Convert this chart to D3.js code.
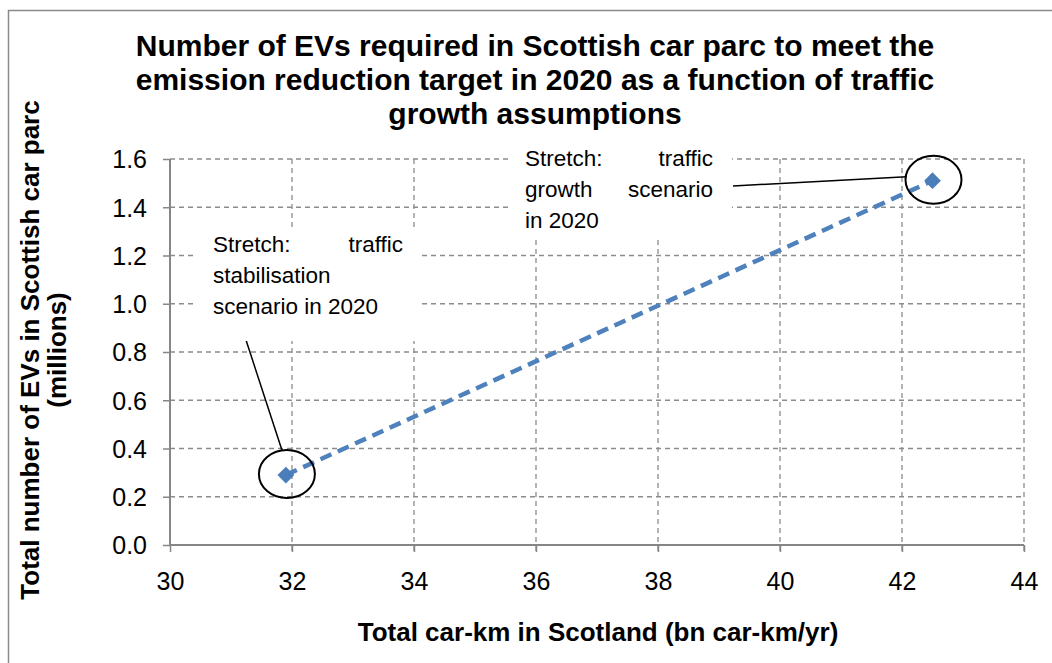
<!DOCTYPE html>
<html>
<head>
<meta charset="utf-8">
<script src="https://cdn.jsdelivr.net/npm/d3@7"></script>
<style>
  body { margin: 0; background: #fff; }
  svg text { font-family: Arial, "Liberation Sans", sans-serif; fill: #000; }
</style>
</head>
<body>
<div id="chart"></div>
<script>
const width = 1052;
const height = 663;

// data
const carKm = [31.9, 42.5];          // bn car-km/yr
const evsMillions = [0.29, 1.51];    // millions of EVs
const xTicks = [30, 32, 34, 36, 38, 40, 42, 44];
const yTicks = [0, 0.2, 0.4, 0.6, 0.8, 1.0, 1.2, 1.4, 1.6];
const titleLines = [
    'Number of EVs required in Scottish car parc to meet the',
    'emission reduction target in 2020 as a function of traffic',
    'growth assumptions'
];
const yTitleLines = ['Total number of EVs in Scottish car parc', '(millions)'];
const xTitle = 'Total car-km in Scotland (bn car-km/yr)';
// each label: lines of words; justified lines get spread across the box
const labelStabilisation = [['Stretch:', 'traffic'], ['stabilisation'], ['scenario in 2020']];
const labelGrowth = [['Stretch:', 'traffic'], ['growth', 'scenario'], ['in 2020']];

const margin = { left: 170, right: 28, top: 159, bottom: 118 };
const plotW = width - margin.left - margin.right;
const plotH = height - margin.top - margin.bottom;

const svg = d3.select('#chart')
    .append('svg')
    .attr('width', width)
    .attr('height', height);

// outer chart border
svg.append('rect')
   .attr('x', 8.5).attr('y', 10.5)
   .attr('width', width + 20).attr('height', height + 20)
   .attr('fill', 'none')
   .attr('stroke', '#8a8a8a')
   .attr('stroke-width', 1.5);

const xScale = d3.scaleLinear().domain([30, 44]).range([0, plotW]);
const yScale = d3.scaleLinear().domain([0, 1.6]).range([plotH, 0]);

const g = svg.append('g').attr('transform', `translate(${margin.left},${margin.top})`);

// gridlines
g.selectAll('.hgrid')
 .data(yTicks.filter(d => d > 0))
 .enter()
 .append('line')
 .attr('class', 'hgrid')
 .attr('x1', 0).attr('x2', plotW)
 .attr('y1', d => yScale(d)).attr('y2', d => yScale(d))
 .attr('stroke', '#8c8c8c')
 .attr('stroke-dasharray', '5,4')
 .attr('stroke-width', 1.3);
g.selectAll('.vgrid')
 .data(xTicks.filter(d => d > 30))
 .enter()
 .append('line')
 .attr('class', 'vgrid')
 .attr('x1', d => xScale(d)).attr('x2', d => xScale(d))
 .attr('y1', 0).attr('y2', plotH + 7)
 .attr('stroke', '#8c8c8c')
 .attr('stroke-dasharray', '5,4')
 .attr('stroke-width', 1.3);

// axes
const xAxis = d3.axisBottom(xScale).tickValues(xTicks).tickSize(7).tickPadding(20).tickFormat(d3.format('d'));
const yAxis = d3.axisLeft(yScale).tickValues(yTicks).tickSize(7).tickPadding(16).tickFormat(d3.format('.1f'));

const gx = g.append('g')
    .attr('transform', `translate(0,${plotH})`)
    .call(xAxis);
const gy = g.append('g').call(yAxis);

[gx, gy].forEach(ax => {
    ax.select('.domain').attr('stroke', '#868686').attr('stroke-width', 2);
    ax.selectAll('.tick line').attr('stroke', '#868686').attr('stroke-width', 1.5);
    ax.selectAll('.tick text')
      .attr('fill', '#000')
      .style('font-family', 'Arial, "Liberation Sans", sans-serif')
      .style('font-size', '25px');
});
gy.selectAll('.tick text').attr('dy', '0.35em');
gx.select('.domain').attr('d', `M0,0H${plotW}`);
gy.select('.domain').attr('d', `M0,0V${plotH}`);

// series
const pts = carKm.map((d, i) => [xScale(d), yScale(evsMillions[i])]);
g.append('path')
 .datum(pts)
 .attr('d', d3.line())
 .attr('fill', 'none')
 .attr('stroke', '#4f81bd')
 .attr('stroke-width', 4.5)
 .attr('stroke-dasharray', '12,7');

g.selectAll('.marker')
 .data(pts)
 .enter()
 .append('path')
 .attr('class', 'marker')
 .attr('d', d3.symbol().type(d3.symbolDiamond2).size(180))
 .attr('transform', d => `translate(${d[0]},${d[1]})`)
 .attr('fill', '#4a7ebb');

// circles round the points
g.selectAll('.ring')
 .data(pts)
 .enter()
 .append('ellipse')
 .attr('cx', d => d[0] + 1)
 .attr('cy', d => d[1] - 1)
 .attr('rx', 28)
 .attr('ry', 24)
 .attr('fill', 'none')
 .attr('stroke', '#000')
 .attr('stroke-width', 2);

// annotation boxes
function drawLabel(box, lines, leaderFrom, leaderTo) {
    g.append('line')
     .attr('x1', leaderFrom[0]).attr('y1', leaderFrom[1])
     .attr('x2', leaderTo[0]).attr('y2', leaderTo[1])
     .attr('stroke', '#000')
     .attr('stroke-width', 1.5);
    g.append('rect')
     .attr('x', box.x).attr('y', box.y)
     .attr('width', box.w).attr('height', box.h)
     .attr('fill', '#fff');
    lines.forEach((words, i) => {
        const y = box.baseline + i * box.lineH;
        g.append('text').attr('x', box.textL).attr('y', y)
         .style('font-size', box.fs + 'px').text(words[0]);
        if (words.length === 2) {
            g.append('text').attr('x', box.textR).attr('y', y)
             .attr('text-anchor', 'end')
             .style('font-size', box.fs + 'px').text(words[1]);
        }
    });
}

const p0 = pts[0], p1 = pts[1];
drawLabel({ x: 24, y: 68, w: 228, h: 114, textL: 43, textR: 233, baseline: 93, lineH: 31, fs: 22.5 },
          labelStabilisation, [75, 178], [p0[0] - 4, p0[1] - 25]);
drawLabel({ x: 338, y: -18, w: 224, h: 96, textL: 355, textR: 543, baseline: 7, lineH: 31, fs: 22.5 },
          labelGrowth, [563, 27], [p1[0] - 26, p1[1] - 4]);

// titles
const title = svg.append('text')
    .attr('text-anchor', 'middle')
    .style('font-size', '30px')
    .style('font-weight', 'bold');
titleLines.forEach((t, i) => {
    title.append('tspan')
         .attr('x', 535)
         .attr('y', 56 + i * 34)
         .text(t);
});

svg.append('text')
   .attr('x', 598)
   .attr('y', 641)
   .attr('text-anchor', 'middle')
   .style('font-size', '26px')
   .style('font-weight', 'bold')
   .text(xTitle);

yTitleLines.forEach((t, i) => {
    svg.append('text')
       .attr('transform', `translate(${39 + i * 27},350) rotate(-90)`)
       .attr('text-anchor', 'middle')
       .style('font-size', '26px')
       .style('font-weight', 'bold')
       .text(t);
});
</script>
</body>
</html>
